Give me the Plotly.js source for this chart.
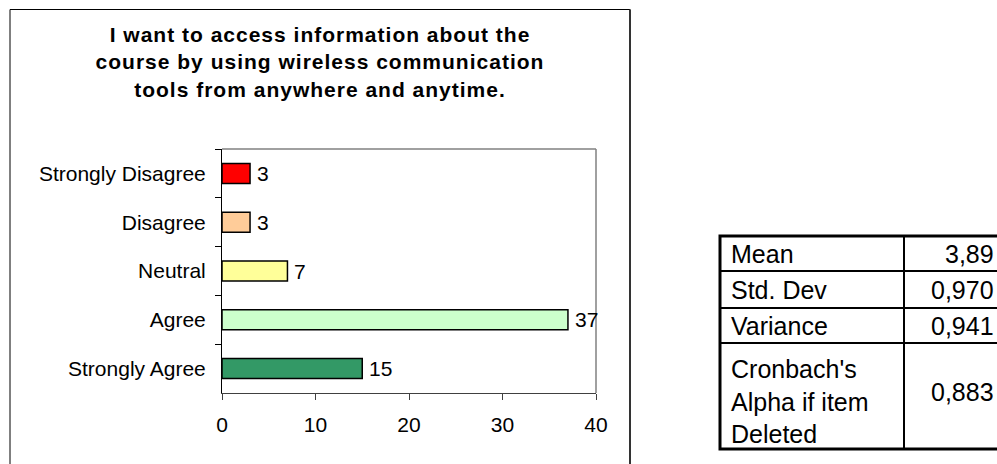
<!DOCTYPE html>
<html><head><meta charset="utf-8">
<script src="https://cdn.plot.ly/plotly-3.0.1.min.js"></script>
<style>html,body{margin:0;padding:0;background:#fff;} .gtitle{letter-spacing:1px;}</style>
</head><body><div id="chart" style="width:997px;height:464px;"></div>
<script>
const titleLines = ["I want to access information about the", "course by using wireless communication", "tools from anywhere and anytime."];
const categories = ["Strongly Disagree", "Disagree", "Neutral", "Agree", "Strongly Agree"];
const counts = [3, 3, 7, 37, 15];
const barColors = ["#FF0000", "#FFCC99", "#FFFF99", "#CCFFCC", "#339966"];
const xTicks = [0, 10, 20, 30, 40];
const statLabels = ["Mean", "Std. Dev", "Variance", "Cronbach's<br>Alpha if item<br>Deleted"];
const statValues = ["3,89", "0,970", "0,941", "0,883"];

const FONT = "'Liberation Sans', Arial, sans-serif";
const W = 997, H = 464, L = 222, R = 596, T = 149, B = 393;
const px = x => (x - L) / (R - L);
const py = y => (B - y) / (B - T);

const trace = {
  type: 'bar', orientation: 'h',
  y: categories, x: counts,
  width: 0.41,
  marker: {color: barColors, line: {color: '#000', width: 1.5}},
  hoverinfo: 'x+y'
};

const annotations = [];
categories.forEach((c, i) => {
  annotations.push({x: counts[i], y: c, xref: 'x', yref: 'y', text: String(counts[i]),
    showarrow: false, xanchor: 'left', yanchor: 'middle', xshift: 5,
    font: {family: FONT, size: 21, color: '#000'}});
});

// table geometry (pixels)
const rowEdges = [236, 271, 308, 343, 449];
const labelCenters = [254, 290, 326, 401];
const valueCenters = [254, 290, 326, 392];
const tx0 = 720, txMid = 904, tx1 = 1003;
statLabels.forEach((s, i) => {
  annotations.push({x: px(729), y: py(labelCenters[i]), xref: 'paper', yref: 'paper', text: s,
    showarrow: false, xanchor: 'left', yanchor: 'middle', align: 'left',
    font: {family: FONT, size: 25, color: '#000'}});
  annotations.push({x: px(996), y: py(valueCenters[i]), xref: 'paper', yref: 'paper', text: statValues[i],
    showarrow: false, xanchor: 'right', yanchor: 'middle', align: 'right',
    font: {family: FONT, size: 25, color: '#000'}});
});

const shapes = [
  // chart area border
  {type: 'rect', xref: 'paper', yref: 'paper', x0: px(10), x1: px(630), y0: py(9.5), y1: py(470),
   line: {color: '#000', width: 1}},
  {type: 'line', xref: 'paper', yref: 'paper', x0: px(630), x1: px(630), y0: py(9.5), y1: py(470),
   line: {color: '#333', width: 2}},
  // plot area top & right border
  {type: 'line', xref: 'paper', yref: 'paper', x0: 0, x1: 1, y0: 1, y1: 1, line: {color: '#808080', width: 1.5}},
  {type: 'line', xref: 'paper', yref: 'paper', x0: 1, x1: 1, y0: 0, y1: 1, line: {color: '#808080', width: 1.5}},
  // table
  {type: 'rect', xref: 'paper', yref: 'paper', x0: px(tx0), x1: px(tx1), y0: py(rowEdges[0]), y1: py(rowEdges[4]),
   line: {color: '#000', width: 3}},
  {type: 'line', xref: 'paper', yref: 'paper', x0: px(txMid), x1: px(txMid), y0: py(rowEdges[0]), y1: py(rowEdges[4]),
   line: {color: '#000', width: 2}}
];
[1, 2, 3].forEach(i => shapes.push({type: 'line', xref: 'paper', yref: 'paper',
  x0: px(tx0), x1: px(tx1), y0: py(rowEdges[i]), y1: py(rowEdges[i]), line: {color: '#000', width: 2}}));

const layout = {
  width: W, height: H, autosize: false,
  margin: {l: L, r: W - R, t: T, b: H - B, pad: 0},
  paper_bgcolor: '#fff', plot_bgcolor: '#fff',
  showlegend: false,
  font: {family: FONT, color: '#000'},
  title: {text: titleLines.join('<br>'), font: {family: FONT, size: 21, color: '#000', weight: 'bold'},
    xref: 'container', yref: 'container', x: 320 / W, xanchor: 'center', y: 1 - 42 / H, yanchor: 'top'},
  xaxis: {range: [0, 40], tickvals: xTicks, ticks: 'outside', ticklen: 6, tickcolor: '#404040',
    showline: true, linecolor: '#404040', linewidth: 1, showgrid: false, zeroline: false,
    tickfont: {family: FONT, size: 21, color: '#000'}, ticklabelstandoff: 7, fixedrange: true},
  yaxis: {type: 'category', categoryarray: categories, categoryorder: 'array', autorange: 'reversed',
    ticks: 'outside', tickson: 'boundaries', ticklen: 6, tickcolor: '#000',
    showline: true, linecolor: '#000', linewidth: 1, showgrid: false, zeroline: false,
    tickfont: {family: FONT, size: 21, color: '#000'}, ticklabelstandoff: 11, fixedrange: true},
  annotations: annotations,
  shapes: shapes
};

Plotly.newPlot('chart', [trace], layout, {displayModeBar: false, staticPlot: true});
</script>
</body></html>
